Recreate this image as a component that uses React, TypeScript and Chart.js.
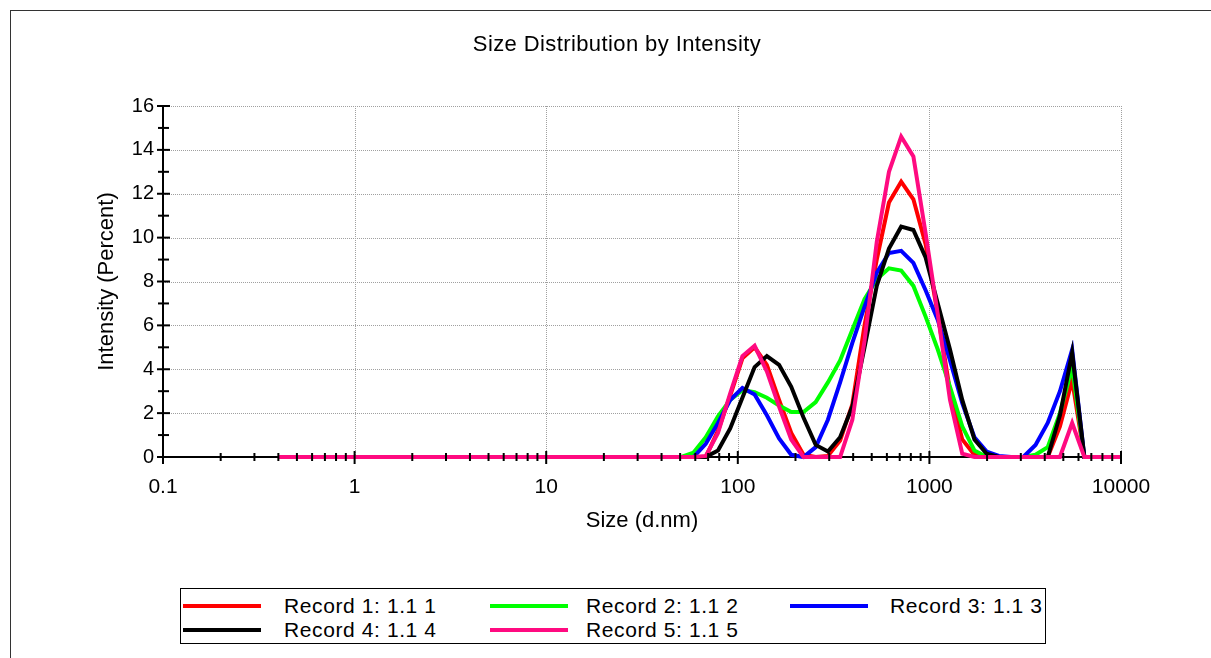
import React, { useEffect, useRef } from 'react';
import { Chart, registerables } from 'chart.js';

Chart.register(...registerables);

const TITLE = 'Size Distribution by Intensity';
const X_TITLE = 'Size (d.nm)';
const Y_TITLE = 'Intensity (Percent)';

// Size bins (d.nm)
const sizes = [
  0.4, 0.4632, 0.5365, 0.6213, 0.7195, 0.8332, 0.9649, 1.117, 1.294, 1.499,
  1.736, 2.01, 2.328, 2.696, 3.122, 3.615, 4.187, 4.849, 5.615, 6.503,
  7.531, 8.721, 10.1, 11.7, 13.54, 15.69, 18.17, 21.04, 24.36, 28.21,
  32.67, 37.84, 43.82, 50.75, 58.77, 68.06, 78.82, 91.28, 105.7, 122.4,
  141.8, 164.2, 190.1, 220.2, 255.0, 295.3, 342.0, 396.1, 458.7, 531.2,
  615.1, 712.4, 825.0, 955.4, 1106, 1281, 1484, 1718, 1990, 2305,
  2669, 3091, 3580, 4145, 4801, 5560, 6439, 7456, 8635, 10000,
];

const record1 = [
  0, 0, 0, 0, 0, 0, 0, 0, 0, 0,
  0, 0, 0, 0, 0, 0, 0, 0, 0, 0,
  0, 0, 0, 0, 0, 0, 0, 0, 0, 0,
  0, 0, 0, 0, 0, 0, 1.2, 2.8, 4.5, 5.0,
  4.2, 2.6, 1.1, 0.1, 0, 0.05, 0.75, 2.4, 6.0, 9.0,
  11.6, 12.55, 11.75, 9.7, 6.5, 3.0, 0.8, 0.1, 0, 0,
  0, 0, 0, 0, 1.4, 3.5, 0, 0, 0, 0,
];
const record2 = [
  0, 0, 0, 0, 0, 0, 0, 0, 0, 0,
  0, 0, 0, 0, 0, 0, 0, 0, 0, 0,
  0, 0, 0, 0, 0, 0, 0, 0, 0, 0,
  0, 0, 0, 0, 0.2, 0.9, 1.85, 2.6, 3.05, 2.95,
  2.7, 2.35, 2.05, 2.05, 2.5, 3.4, 4.4, 5.8, 7.2, 8.1,
  8.6, 8.5, 7.8, 6.4, 4.9, 3.2, 1.4, 0.3, 0, 0,
  0, 0, 0.1, 0.45, 2.0, 4.1, 0, 0, 0, 0,
];
const record3 = [
  0, 0, 0, 0, 0, 0, 0, 0, 0, 0,
  0, 0, 0, 0, 0, 0, 0, 0, 0, 0,
  0, 0, 0, 0, 0, 0, 0, 0, 0, 0,
  0, 0, 0, 0, 0, 0.6, 1.55, 2.6, 3.15, 2.85,
  1.9, 0.85, 0.1, 0, 0.45, 1.7, 3.4, 5.2, 6.85, 8.4,
  9.3, 9.4, 8.85, 7.6, 6.25, 4.4, 2.45, 0.9, 0.25, 0.05,
  0, 0, 0.55, 1.55, 3.0, 4.9, 0, 0, 0, 0,
];
const record4 = [
  0, 0, 0, 0, 0, 0, 0, 0, 0, 0,
  0, 0, 0, 0, 0, 0, 0, 0, 0, 0,
  0, 0, 0, 0, 0, 0, 0, 0, 0, 0,
  0, 0, 0, 0, 0, 0, 0.3, 1.3, 2.7, 4.1,
  4.6, 4.2, 3.2, 1.8, 0.55, 0.25, 0.9, 2.3, 5.0, 7.8,
  9.5, 10.5, 10.35, 9.1, 7.0, 4.9, 2.6, 0.8, 0.15, 0,
  0, 0, 0, 0, 1.9, 4.75, 0, 0, 0, 0,
];
const record5 = [
  0, 0, 0, 0, 0, 0, 0, 0, 0, 0,
  0, 0, 0, 0, 0, 0, 0, 0, 0, 0,
  0, 0, 0, 0, 0, 0, 0, 0, 0, 0,
  0, 0, 0, 0, 0, 0.05, 1.1, 2.9, 4.6, 5.07,
  3.9, 2.3, 0.8, 0, 0, 0, 0, 1.7, 5.3, 9.8,
  13.0, 14.6, 13.7, 10.2, 6.5, 2.6, 0.15, 0, 0, 0,
  0, 0, 0, 0, 0, 1.55, 0, 0, 0, 0,
];

const seriesNames = ['Record 1: 1.1 1', 'Record 2: 1.1 2', 'Record 3: 1.1 3', 'Record 4: 1.1 4', 'Record 5: 1.1 5'];
const seriesValues = [record1, record2, record3, record4, record5];
const seriesColors = ['#ff0000', '#00ff00', '#0000ff', '#000000', '#ff0a80'];

const xMajorTicks = [0.1, 1, 10, 100, 1000, 10000];
const xTickLabels = ['0.1', '1', '10', '100', '1000', '10000'];
const xMinorMultipliers = [2, 3, 4, 5, 6, 7, 8, 9];
const yMajorTicks = [0, 2, 4, 6, 8, 10, 12, 14, 16];
const yMinorTicks = [1, 3, 5, 7, 9, 11, 13, 15];

const FONT = '"Liberation Sans", Arial, Helvetica, sans-serif';

const axesPlugin = {
  id: 'dtsAxes',
  beforeDatasetsDraw(chart: any) {
    const { ctx, chartArea: a, scales } = chart;
    const x = scales.x;
    const y = scales.y;
    ctx.save();
    ctx.strokeStyle = '#a0a0a0';
    ctx.lineWidth = 1;
    ctx.setLineDash([1, 1]);
    for (const v of xMajorTicks.slice(1)) {
      const px = Math.round(x.getPixelForValue(v)) + 0.5;
      ctx.beginPath();
      ctx.moveTo(px, a.top);
      ctx.lineTo(px, a.bottom);
      ctx.stroke();
    }
    for (const v of yMajorTicks.slice(1)) {
      const py = Math.round(y.getPixelForValue(v)) + 0.5;
      ctx.beginPath();
      ctx.moveTo(a.left, py);
      ctx.lineTo(a.right, py);
      ctx.stroke();
    }
    ctx.setLineDash([]);
    ctx.strokeStyle = '#000';
    ctx.lineWidth = 2;
    ctx.beginPath();
    ctx.moveTo(a.left, a.top);
    ctx.lineTo(a.left, a.bottom);
    ctx.lineTo(a.right, a.bottom);
    ctx.stroke();
    ctx.restore();
  },
  afterDatasetsDraw(chart: any) {
    const { ctx, chartArea: a, scales } = chart;
    const x = scales.x;
    const y = scales.y;
    ctx.save();
    ctx.strokeStyle = '#000';
    ctx.lineWidth = 2;
    const tick = (x1: number, y1: number, x2: number, y2: number) => {
      ctx.beginPath();
      ctx.moveTo(x1, y1);
      ctx.lineTo(x2, y2);
      ctx.stroke();
    };
    for (const v of yMajorTicks) {
      const py = y.getPixelForValue(v);
      tick(a.left - 6, py, a.left + 7, py);
    }
    for (const v of yMinorTicks) {
      const py = y.getPixelForValue(v);
      tick(a.left - 5, py, a.left + 6, py);
    }
    for (const v of xMajorTicks) {
      const px = x.getPixelForValue(v);
      tick(px, a.bottom - 6, px, a.bottom + 7);
    }
    for (const d of xMajorTicks.slice(0, -1)) {
      for (const m of xMinorMultipliers) {
        const px = x.getPixelForValue(d * m);
        tick(px, a.bottom - 4, px, a.bottom + 4);
      }
    }
    ctx.restore();
  },
  afterDraw(chart: any) {
    const { ctx } = chart;
    ctx.save();
    ctx.fillStyle = '#000';
    ctx.font = `22px ${FONT}`;
    (ctx as any).letterSpacing = '0.4px';
    ctx.textAlign = 'center';
    ctx.textBaseline = 'middle';
    ctx.fillText(TITLE, 617, 45);
    ctx.restore();
  },
};

function ChartCanvas() {
  const ref = useRef<HTMLCanvasElement | null>(null);
  useEffect(() => {
    if (!ref.current) return;
    const titleFont = { family: FONT, size: 22 };
    const chart = new Chart(ref.current, {
      type: 'line',
      data: {
        datasets: seriesValues.map((vals, i) => ({
          label: seriesNames[i],
          data: sizes.map((s, k) => ({ x: s, y: vals[k] })),
          borderColor: seriesColors[i],
          backgroundColor: seriesColors[i],
          borderWidth: 4,
          pointRadius: 0,
          tension: 0,
          fill: false,
          clip: false as any,
          order: seriesValues.length - 1 - i,
        })),
      },
      options: {
        responsive: false,
        animation: false,
        events: [],
        layout: { padding: { top: 106, right: 90, bottom: 11, left: 0 } },
        plugins: {
          legend: { display: false },
          tooltip: { enabled: false },
          title: { display: false },
        },
        scales: {
          x: {
            type: 'logarithmic',
            min: 0.1,
            max: 10000,
            grid: { display: false, drawTicks: false },
            border: { display: false },
            afterBuildTicks: (s: any) => {
              s.ticks = xMajorTicks.map((v) => ({ value: v }));
            },
            ticks: {
              autoSkip: false,
              maxRotation: 0,
              padding: 18,
              color: '#000',
              font: { family: FONT, size: 21 },
              callback: (_v: any, i: number) => xTickLabels[i],
            },
            title: { display: true, text: X_TITLE, color: '#000', font: titleFont, padding: 0 },
            afterFit: (s: any) => {
              s.height = 77;
            },
          },
          y: {
            type: 'linear',
            min: 0,
            max: 16,
            grid: { display: false, drawTicks: false },
            border: { display: false },
            ticks: { stepSize: 2, padding: 9, color: '#000', font: { family: FONT, size: 20 } },
            title: { display: true, text: Y_TITLE, color: '#000', font: titleFont, padding: { top: 94, bottom: 0 } },
            afterFit: (s: any) => {
              s.width = 163;
            },
          },
        },
      } as any,
      plugins: [axesPlugin],
    });
    return () => chart.destroy();
  }, []);
  return <canvas ref={ref} width={1211} height={545} style={{ position: 'absolute', left: 0, top: 0, display: 'block' }} />;
}

const legendCols = [
  { line: 183, text: 284 },
  { line: 490, text: 586 },
  { line: 790, text: 890 },
];
const legendRows = [606, 630];

function Legend() {
  return (
    <div style={{ position: 'absolute', left: 180, top: 588, width: 866, height: 56, border: '1px solid #000', boxSizing: 'border-box' }}>
      {seriesNames.map((name, i) => {
        const col = legendCols[i % 3];
        const row = legendRows[Math.floor(i / 3)];
        return (
          <React.Fragment key={name}>
            <div style={{ position: 'absolute', left: col.line - 181, top: row - 588 - 3, width: 78, height: 4, background: seriesColors[i] }} />
            <div style={{ position: 'absolute', left: col.text - 181, top: row - 588 - 13, height: 24, lineHeight: '24px', fontSize: 21, letterSpacing: '0.6px', fontFamily: FONT, color: '#000', whiteSpace: 'nowrap' }}>{name}</div>
          </React.Fragment>
        );
      })}
    </div>
  );
}

export default function App() {
  return (
    <div style={{ position: 'fixed', left: 0, top: 0, width: 1211, height: 658, overflow: 'hidden', background: '#fff' }}>
      <div style={{ position: 'absolute', left: 10, top: 10, width: 1400, height: 900, borderLeft: '1.5px solid #333', borderTop: '1.5px solid #333' }} />
      <ChartCanvas />
      <Legend />
    </div>
  );
}
